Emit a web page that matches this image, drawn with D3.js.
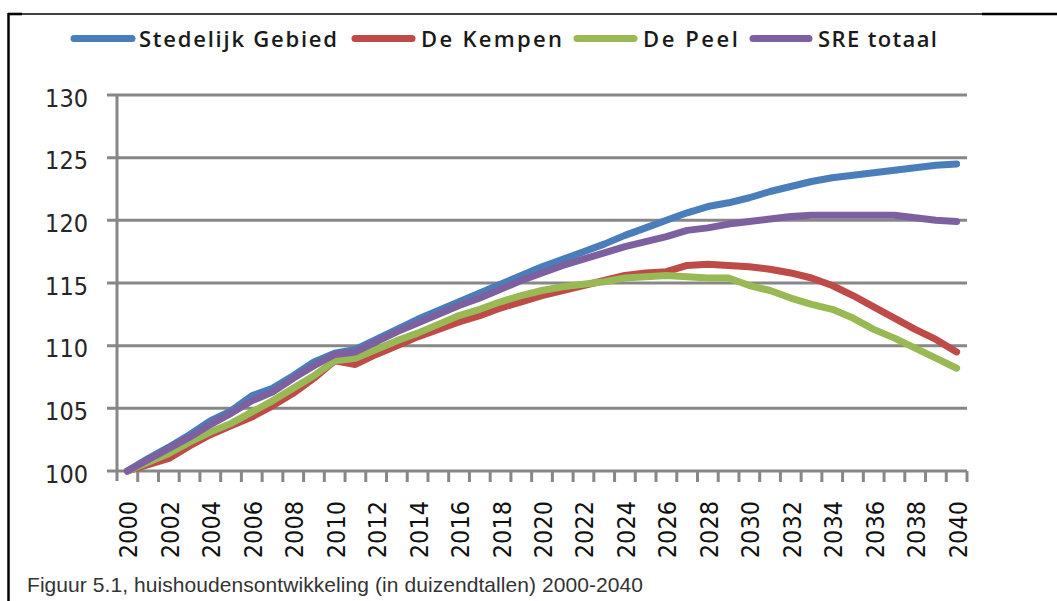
<!DOCTYPE html>
<html>
<head>
<meta charset="utf-8">
<script src="https://cdn.jsdelivr.net/npm/d3@7"></script>
<style>
  html, body { margin: 0; padding: 0; background: #fff; }
  svg { display: block; }
</style>
</head>
<body>
<svg id="chart" width="1057" height="601"></svg>
<script>
// ---- data ----
const years = d3.range(2000, 2041);
const labelYears = years.filter(y => y % 2 === 0);
const yTicks = [100, 105, 110, 115, 120, 125, 130];
const seriesNames = ["Stedelijk Gebied", "De Kempen", "De Peel", "SRE totaal"];
const seriesColors = ["#4a7ebb", "#be4b48", "#98b954", "#7d60a0"];

const stedelijkGebied = [100.0, 101.0, 101.9, 102.9, 104.0, 104.8, 106.0, 106.6, 107.6, 108.7,
  109.4, 109.7, 110.5, 111.3, 112.1, 112.8, 113.5, 114.2, 114.9, 115.6,
  116.3, 116.9, 117.5, 118.1, 118.8, 119.4, 120.0, 120.6, 121.1, 121.4,
  121.8, 122.3, 122.7, 123.1, 123.4, 123.6, 123.8, 124.0, 124.2, 124.4, 124.5];
const deKempen = [100.0, 100.5, 101.0, 102.0, 102.9, 103.6, 104.3, 105.2, 106.2, 107.4,
  108.8, 108.5, 109.3, 110.0, 110.7, 111.3, 111.9, 112.4, 113.0, 113.5,
  114.0, 114.4, 114.8, 115.2, 115.6, 115.8, 115.9, 116.4, 116.5, 116.4,
  116.3, 116.1, 115.8, 115.4, 114.8, 114.0, 113.1, 112.2, 111.3, 110.5, 109.5];
const dePeel = [100.0, 100.7, 101.4, 102.3, 103.1, 103.8, 104.7, 105.6, 106.6, 107.6,
  108.8, 109.0, 109.7, 110.4, 111.0, 111.7, 112.4, 112.9, 113.5, 114.0,
  114.4, 114.7, 114.9, 115.1, 115.4, 115.5, 115.6, 115.5, 115.4, 115.4,
  114.8, 114.4, 113.8, 113.3, 112.9, 112.2, 111.3, 110.6, 109.8, 109.0, 108.2];
const sreTotaal = [100.0, 100.9, 101.8, 102.7, 103.7, 104.6, 105.6, 106.3, 107.4, 108.4,
  109.3, 109.5, 110.3, 111.1, 111.8, 112.5, 113.2, 113.8, 114.5, 115.2,
  115.8, 116.4, 116.9, 117.4, 117.9, 118.3, 118.7, 119.2, 119.4, 119.7,
  119.9, 120.1, 120.3, 120.4, 120.4, 120.4, 120.4, 120.4, 120.2, 120.0, 119.9];
const seriesValues = [stedelijkGebied, deKempen, dePeel, sreTotaal];
const caption = "Figuur 5.1, huishoudensontwikkeling (in duizendtallen) 2000-2040";

// ---- layout ----
const svg = d3.select("#chart");
const plot = { left: 117, right: 967, top: 95, bottom: 471 };
const gridColor = "#878787";

const x = d3.scaleBand().domain(years).range([plot.left, plot.right]).padding(0);
const y = d3.scaleLinear().domain([100, 130]).range([plot.bottom, plot.top]);
const cx = d => x(d) + x.bandwidth() / 2;

// frame
svg.append("line").attr("x1", 8.5).attr("x2", 8.5).attr("y1", 13).attr("y2", 601)
  .attr("stroke", "#000").attr("stroke-width", 2.5);
svg.append("line").attr("x1", 8).attr("x2", 1057).attr("y1", 14).attr("y2", 14)
  .attr("stroke", "#000").attr("stroke-width", 1.3);
svg.append("line").attr("x1", 8).attr("x2", 22).attr("y1", 14).attr("y2", 14)
  .attr("stroke", "#000").attr("stroke-width", 2.6);
svg.append("line").attr("x1", 982).attr("x2", 1057).attr("y1", 14).attr("y2", 14)
  .attr("stroke", "#000").attr("stroke-width", 2.6);

// gridlines
svg.append("g").selectAll("line").data(yTicks).join("line")
  .attr("x1", plot.left - 10).attr("x2", plot.right)
  .attr("y1", d => y(d)).attr("y2", d => y(d))
  .attr("stroke", gridColor).attr("stroke-width", 3);

// y axis line
svg.append("line").attr("x1", plot.left).attr("x2", plot.left)
  .attr("y1", plot.top).attr("y2", plot.bottom + 10)
  .attr("stroke", gridColor).attr("stroke-width", 3);

// x tick marks at band boundaries
const boundaries = years.map(d => x(d)).concat([x.range()[1]]);
svg.append("g").selectAll("line").data(boundaries.slice(1)).join("line")
  .attr("x1", d => d).attr("x2", d => d)
  .attr("y1", plot.bottom).attr("y2", plot.bottom + 11)
  .attr("stroke", gridColor).attr("stroke-width", 3);

// y axis labels
const yAxis = d3.axisLeft(y).tickValues(yTicks).tickSize(0).tickPadding(0);
const gy = svg.append("g").attr("transform", `translate(${plot.left - 29},0)`).call(yAxis);
gy.select(".domain").remove();
gy.selectAll("text")
  .attr("font-family", "'DejaVu Sans Condensed', 'DejaVu Sans', sans-serif")
  .attr("font-stretch", "condensed")
  .attr("font-size", 25).attr("fill", "#262626")
  .attr("x", 0).attr("dy", "0.45em");

// x axis labels
const xAxis = d3.axisBottom(x).tickValues(labelYears).tickSize(0).tickPadding(0);
const gx = svg.append("g").attr("transform", `translate(0,${plot.bottom})`).call(xAxis);
gx.select(".domain").remove();
gx.selectAll("text")
  .attr("font-family", "'DejaVu Sans Condensed', 'DejaVu Sans', sans-serif")
  .attr("font-stretch", "condensed")
  .attr("font-size", 25).attr("fill", "#111")
  .attr("text-anchor", "end")
  .attr("y", 0).attr("dy", 0)
  .attr("transform", "translate(10,30) rotate(-90)");

// lines
const line = d3.line().x((d, i) => cx(years[i])).y(d => y(d));
svg.append("g").selectAll("path").data(seriesValues).join("path")
  .attr("d", d => line(d))
  .attr("fill", "none")
  .attr("stroke", (d, i) => seriesColors[i])
  .attr("stroke-width", 7)
  .attr("stroke-linejoin", "round")
  .attr("stroke-linecap", "round");

// legend
const legendLineX = [71, 352, 574, 750];
const legendLineW = [64, 63, 63, 62];
const legendTextX = [139, 421, 643, 818];
const legendTextW = [198, 141, 95, 119];
const lg = svg.append("g");
seriesNames.forEach((name, i) => {
  lg.append("line")
    .attr("x1", legendLineX[i] + 3).attr("x2", legendLineX[i] + legendLineW[i] - 3)
    .attr("y1", 38.5).attr("y2", 38.5)
    .attr("stroke", seriesColors[i]).attr("stroke-width", 7)
    .attr("stroke-linecap", "round");
  lg.append("text")
    .attr("x", legendTextX[i]).attr("y", 47)
    .attr("font-family", "'Open Sans', Lato, sans-serif")
    .attr("font-weight", 600)
    .attr("font-size", 22).attr("fill", "#1a1a1a")
    .attr("textLength", legendTextW[i]).attr("lengthAdjust", "spacing")
    .text(name);
});

// caption
svg.append("text")
  .attr("x", 27).attr("y", 592)
  .attr("font-family", "'Liberation Sans', Arial, sans-serif")
  .attr("font-size", 21).attr("fill", "#333")
  .attr("textLength", 616).attr("lengthAdjust", "spacing")
  .text(caption);
</script>
</body>
</html>
